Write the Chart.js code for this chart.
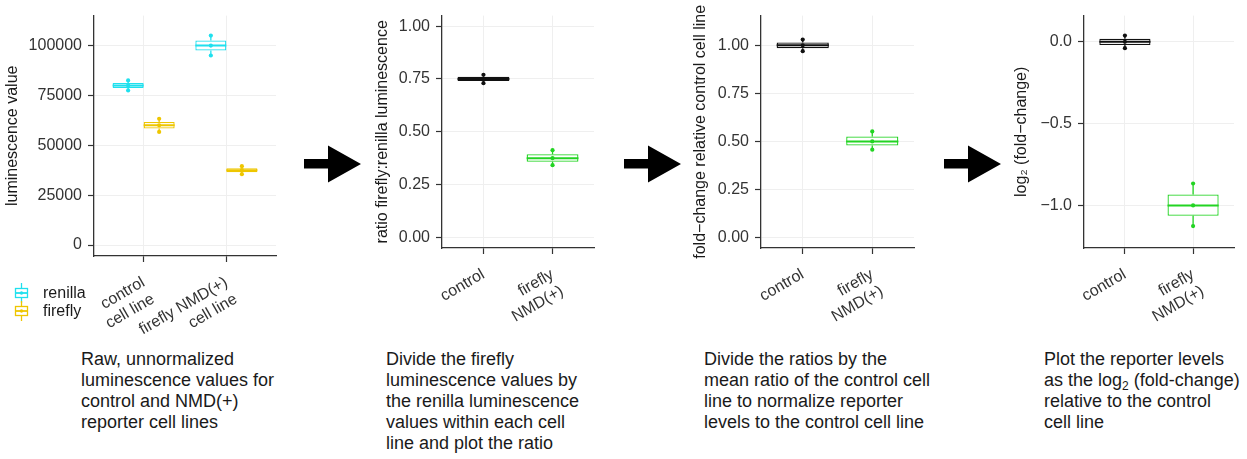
<!DOCTYPE html>
<html>
<head>
<meta charset="utf-8">
<script src="https://cdn.jsdelivr.net/npm/chart.js@4.4.1/dist/chart.umd.min.js"></script>
<style>
  html, body { margin: 0; padding: 0; background: #fff; }
  body { width: 1247px; height: 459px; overflow: hidden; position: relative;
         font-family: "Liberation Sans", Arial, Helvetica, sans-serif; }
  canvas.panel { position: absolute; top: 0; }
  #decor { position: absolute; left: 0; top: 0; }
  .legend-label { position: absolute; font-size: 16px; line-height: 18px; color: #1a1a1a; }
  .caption { position: absolute; top: 349px; font-size: 18px; line-height: 21px;
             color: #1a1a1a; white-space: nowrap; }
  .caption sub { font-size: 12px; line-height: 0; vertical-align: -4px; }
</style>
</head>
<body>
<svg id="decor" width="1247" height="459" xmlns="http://www.w3.org/2000/svg">
  <!-- step arrows between panels -->
  <polygon points="304,159 328,159 328,145.5 361,164 328,182.5 328,168.5 304,168.5" fill="#000"/>
  <polygon points="624,159 648,159 648,145.5 681,164 648,182.5 648,168.5 624,168.5" fill="#000"/>
  <polygon points="944,159 968,159 968,145.5 1001,164 968,182.5 968,168.5 944,168.5" fill="#000"/>
  <!-- boxplot legend keys -->
  <g stroke="#1FE0EE" stroke-width="1.3" fill="#fff">
    <line x1="21.5" y1="283" x2="21.5" y2="303"/>
    <rect x="15.5" y="288.5" width="12" height="9"/>
    <line x1="15.5" y1="293" x2="27.5" y2="293" stroke-width="1.8"/>
    <circle cx="21.5" cy="293" r="1.7" fill="#1FE0EE" stroke="none"/>
  </g>
  <g stroke="#EEC600" stroke-width="1.3" fill="#fff">
    <line x1="21.5" y1="301" x2="21.5" y2="321"/>
    <rect x="15.5" y="306.5" width="12" height="9"/>
    <line x1="15.5" y1="311" x2="27.5" y2="311" stroke-width="1.8"/>
    <circle cx="21.5" cy="311" r="1.7" fill="#EEC600" stroke="none"/>
  </g>
</svg>

<canvas class="panel" id="rawChart" width="280" height="340" style="left:0px"></canvas>
<canvas class="panel" id="ratioChart" width="228" height="340" style="left:370px"></canvas>
<canvas class="panel" id="foldChart" width="230" height="340" style="left:688px"></canvas>
<canvas class="panel" id="log2Chart" width="229" height="340" style="left:1009px"></canvas>

<div class="legend-label" style="left:43px; top:284px">renilla</div>
<div class="legend-label" style="left:43px; top:302px">firefly</div>

<div class="caption" style="left:81px">Raw, unnormalized<br>luminescence values for<br>control and NMD(+)<br>reporter cell lines</div>
<div class="caption" style="left:386px">Divide the firefly<br>luminescence values by<br>the renilla luminescence<br>values within each cell<br>line and plot the ratio</div>
<div class="caption" style="left:704px">Divide the ratios by the<br>mean ratio of the control cell<br>line to normalize reporter<br>levels to the control cell line</div>
<div class="caption" style="left:1044px">Plot the reporter levels<br>as the log<sub>2</sub> (fold-change)<br>relative to the control<br>cell line</div>

<script>
// ---- measured replicate values (three wells per cell line) ----
const cellLineLabels = [["control", "cell line"], ["firefly NMD(+)", "cell line"]];
const reporterLabels = [["control"], ["firefly", "NMD(+)"]];

const renillaRaw  = [[77500, 80000, 82500], [95000, 100000, 105000]];
const fireflyRaw  = [[56700, 60000, 63300], [35500, 37500, 39500]];
const ratioControl = [0.730, 0.750, 0.770];
const ratioNMD     = [0.342, 0.375, 0.413];
const foldControl  = [0.970, 1.000, 1.030];
const foldNMD      = [0.457, 0.500, 0.552];
const log2Control  = [-0.039, 0.000, 0.038];
const log2NMD      = [-1.126, -1.000, -0.866];

const rawTicks        = [0, 25000, 50000, 75000, 100000];
const rawTickLabels   = ["0", "25000", "50000", "75000", "100000"];
const unitTicks       = [0, 0.25, 0.5, 0.75, 1];
const unitTickLabels  = ["0.00", "0.25", "0.50", "0.75", "1.00"];
const log2Ticks       = [-1, -0.5, 0];
const log2TickLabels  = ["\u22121.0", "\u22120.5", "0.0"];

// ---- colours ----
const CYAN = "#1FE0EE", GOLD = "#EEC600", GREEN = "#22D422", INK = "#111111";

Chart.defaults.font.family = '"Liberation Sans", Arial, Helvetica, sans-serif';

// Tukey boxplot summary (type-7 quantiles, whiskers at 1.5 IQR)
function quantile(sorted, p) {
  const h = (sorted.length - 1) * p, lo = Math.floor(h), hi = Math.ceil(h);
  return sorted[lo] + (h - lo) * (sorted[hi] - sorted[lo]);
}
function boxStats(values) {
  const s = [...values].sort((a, b) => a - b);
  const q1 = quantile(s, 0.25), q3 = quantile(s, 0.75), iqr = q3 - q1;
  const inner = s.filter(v => v >= q1 - 1.5 * iqr && v <= q3 + 1.5 * iqr);
  return { min: inner[0], q1, median: quantile(s, 0.5), q3, max: inner[inner.length - 1] };
}

// half of a box's width, in pixels on the chart's x scale
function halfWidthPx(chart, halfUnits) {
  const xs = chart.scales.x;
  return Math.abs(xs.getPixelForValue(1 + halfUnits) - xs.getPixelForValue(1));
}

// One boxplot series: points, median, box (floating bar) and whiskers.
// cats = category positions (1-based) of each group in the series.
function boxSeries(groups, cats, color, opts) {
  const { dodge = 0, groupWidth = 0.75, halfUnits = 0.375, grouped = false } = opts || {};
  const stats = groups.map(boxStats);
  const xs = cats.map(c => c + dodge);
  const whiskers = [];
  stats.forEach((s, i) => {
    whiskers.push({ x: xs[i], y: s.min }, { x: xs[i], y: s.q1 }, { x: xs[i], y: null });
    whiskers.push({ x: xs[i], y: s.q3 }, { x: xs[i], y: s.max }, { x: xs[i], y: null });
  });
  return [
    { type: "scatter", order: 0,
      data: groups.flatMap((vals, i) => vals.map(v => ({ x: xs[i], y: v }))),
      pointRadius: 2.1, pointBackgroundColor: color, pointBorderWidth: 0, pointBorderColor: color },
    { type: "scatter", order: 1,
      data: stats.map((s, i) => ({ x: xs[i], y: s.median })),
      pointStyle: "line", pointRadius: ctx => halfWidthPx(ctx.chart, halfUnits),
      pointBorderColor: color, pointBorderWidth: 2, pointBackgroundColor: color },
    { type: "bar", order: 2, grouped,
      data: stats.map((s, i) => ({ x: grouped ? cats[i] : xs[i], y: [s.q1, s.q3] })),
      backgroundColor: "#ffffff", borderColor: color, borderWidth: 1.3, borderSkipped: false,
      categoryPercentage: groupWidth, barPercentage: 1 },
    { type: "line", order: 3, data: whiskers, spanGaps: false,
      borderColor: color, borderWidth: 1.3, pointRadius: 0, fill: false }
  ];
}

function makePanel(id, datasets, cfg) {
  const gridStyle = { color: "#EFEFEF", lineWidth: 1, tickColor: "#333", tickLength: 6, tickWidth: 1.2, offset: false };
  const borderStyle = { color: "#333", width: 1.3 };
  return new Chart(document.getElementById(id), {
    type: "bar",
    data: { datasets },
    options: {
      responsive: false, animation: false, events: [],
      layout: { padding: { top: 15, right: 3, left: 0, bottom: 0 } },
      plugins: { legend: { display: false }, tooltip: { enabled: false } },
      scales: {
        x: {
          type: "linear", min: 0.4, max: 2.6, offset: false,
          afterBuildTicks: s => { s.ticks = cfg.labels.map((_, i) => ({ value: i + 1 })); },
          afterFit: s => { s.height = cfg.xHeight; },
          ticks: { callback: (v, i) => cfg.labels[i], minRotation: 30, maxRotation: 30,
                   autoSkip: false, font: { size: 16 }, color: "#333", padding: 11 },
          grid: gridStyle, border: borderStyle
        },
        y: {
          type: "linear", min: cfg.min, max: cfg.max, beginAtZero: false,
          afterBuildTicks: s => { s.ticks = cfg.ticks.map(v => ({ value: v })); },
          afterFit: s => { s.width = cfg.yWidth; },
          ticks: { callback: (v, i) => cfg.tickLabels[i], font: { size: 16 }, color: "#333", padding: 6 },
          grid: gridStyle, border: borderStyle,
          title: { display: true, text: cfg.title, font: { size: 16 }, color: "#1a1a1a",
                   padding: { top: 3, bottom: 0 } }
        }
      }
    }
  });
}

// Panel 1: raw luminescence, renilla and firefly side by side
makePanel("rawChart",
  [...boxSeries(renillaRaw, [1, 2], CYAN, { dodge: -0.1875, halfUnits: 0.1875, grouped: true }),
   ...boxSeries(fireflyRaw, [1, 2], GOLD, { dodge: 0.1875, halfUnits: 0.1875, grouped: true })],
  { labels: cellLineLabels, xHeight: 84, yWidth: 94, min: -5500, max: 115000,
    ticks: rawTicks, tickLabels: rawTickLabels, title: "luminescence value" });

// Panel 2: firefly : renilla ratio per cell line
makePanel("ratioChart",
  [...boxSeries([ratioControl], [1], INK), ...boxSeries([ratioNMD], [2], GREEN)],
  { labels: reporterLabels, xHeight: 92, yWidth: 72, min: -0.05, max: 1.05,
    ticks: unitTicks, tickLabels: unitTickLabels, title: "ratio firefly:renilla luminescence" });

// Panel 3: ratios relative to the control mean
makePanel("foldChart",
  [...boxSeries([foldControl], [1], INK), ...boxSeries([foldNMD], [2], GREEN)],
  { labels: reporterLabels, xHeight: 92, yWidth: 73, min: -0.055, max: 1.155,
    ticks: unitTicks, tickLabels: unitTickLabels, title: "fold\u2212change relative control cell line" });

// Panel 4: log2 of the fold-change
makePanel("log2Chart",
  [...boxSeries([log2Control], [1], INK), ...boxSeries([log2NMD], [2], GREEN)],
  { labels: reporterLabels, xHeight: 92, yWidth: 75, min: -1.26, max: 0.16,
    ticks: log2Ticks, tickLabels: log2TickLabels, title: "log\u2082 (fold\u2212change)" });
</script>
</body>
</html>
